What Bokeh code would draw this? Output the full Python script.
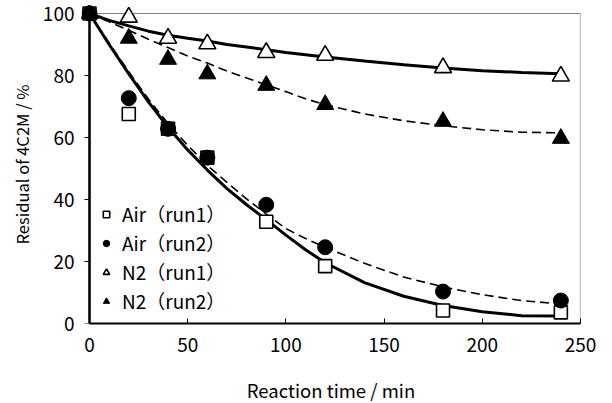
from bokeh.plotting import figure
from bokeh.models import Range1d, FixedTicker, Legend, LegendItem, BoxAnnotation, LinearAxis
from bokeh.embed import file_html
from bokeh.resources import INLINE

# measured data
time = [0, 20, 40, 60, 90, 120, 180, 240]
air_run1 = [100, 67.6, 62.8, 53.5, 32.8, 18.5, 4.2, 3.6]
air_run2 = [100, 72.7, 62.8, 53.5, 38.3, 24.6, 10.3, 7.4]
n2_run1 = [100, 98.8, 92.0, 90.2, 87.4, 86.5, 82.5, 79.8]
n2_run2 = [100, 92.0, 85.2, 80.5, 76.8, 70.6, 65.2, 59.7]

# fitted curves
fit_time = [0, 10, 20, 30, 40, 50, 60, 70, 80, 90, 100, 110, 120, 140, 160, 180, 200, 220, 240]
air_run1_fit = [100, 90, 80.5, 71.5, 63.3, 56, 49.5, 43.5, 38.3, 33.5, 28.5, 23.8, 19.6, 13.2, 8.8, 5.8, 3.8, 2.5, 2.4]
air_run2_fit = [100, 90.5, 81.2, 72.4, 64.5, 57.5, 51, 45.5, 40.2, 35.3, 30.6, 27.4, 24.6, 19.4, 15.0, 11.8, 9.3, 7.4, 6.3]
n2_run1_fit = [100, 97.8, 96.0, 94.3, 93.0, 92.0, 91.1, 90.0, 89.2, 88.3, 87.4, 86.7, 86.0, 84.7, 83.5, 82.4, 81.5, 81.0, 80.6]
n2_run2_fit = [100, 97.3, 94.6, 91.7, 89.0, 86.3, 84.0, 81.4, 79.2, 77.0, 74.8, 72.5, 70.6, 67.6, 65.4, 63.8, 62.5, 61.7, 61.5]

x_min, x_max = 0, 250
y_min, y_max = 0, 100
x_ticks = [0, 50, 100, 150, 200, 250]
y_ticks = [0, 20, 40, 60, 80, 100]

FONT = "Noto Sans CJK JP"

# frame slightly larger than the axes box (8px left/top) so edge markers are not clipped
x_pad = 8 * (x_max - x_min) / 491
y_pad = 8 * (y_max - y_min) / 310

p = figure(frame_width=499, frame_height=318, output_backend="svg", toolbar_location=None,
           x_range=Range1d(x_min - x_pad, x_max), y_range=Range1d(y_min, y_max + y_pad),
           min_border_left=81, min_border_right=32, min_border_top=5, min_border_bottom=80)
p.xgrid.visible = False
p.ygrid.visible = False
p.outline_line_color = None

p.add_layout(BoxAnnotation(left=x_min, right=x_max, bottom=y_min, top=y_max,
                           fill_color=None, fill_alpha=0, line_color="#808080",
                           line_alpha=1.0, line_width=1.2, level="underlay"))
# left axis line of the axes box
p.segment(x0=[x_min], y0=[y_min], x1=[x_min], y1=[y_max], line_color="black", line_width=2)

p.line(fit_time, n2_run1_fit, line_color="black", line_width=3)
p.line(fit_time, n2_run2_fit, line_color="black", line_width=1.6, line_dash="9 5")
p.line(fit_time, air_run1_fit, line_color="black", line_width=3)
p.line(fit_time, air_run2_fit, line_color="black", line_width=1.6, line_dash="9 5")

r1 = p.scatter(time, air_run1, marker="square", size=13, fill_color="white", line_color="black", line_width=1.6)
r2 = p.scatter(time, air_run2, marker="circle", size=15, fill_color="black", line_color="black")
r3 = p.scatter(time, n2_run1, marker="triangle", size=17, fill_color="white", line_color="black", line_width=1.6)
r4 = p.scatter(time, n2_run2, marker="triangle", size=17, fill_color="black", line_color="black")

legend = Legend(items=[
    LegendItem(label="Air（run1）", renderers=[r1]),
    LegendItem(label="Air（run2）", renderers=[r2]),
    LegendItem(label="N2（run1）", renderers=[r3]),
    LegendItem(label="N2（run2）", renderers=[r4]),
], location=(17, 9), background_fill_alpha=0, border_line_alpha=0,
    padding=0, margin=0, spacing=2, glyph_width=16, glyph_height=22, label_height=22,
    label_standoff=8, label_text_font=FONT, label_text_font_size="19px", label_text_color="black")
p.add_layout(legend, "center")

# x axis (normal position, bottom of frame = y_min)
xa = p.xaxis[0]
xa.axis_line_color = "black"
xa.axis_line_width = 2
xa.major_tick_line_color = "black"
xa.major_tick_line_width = 1
xa.minor_tick_line_color = None
xa.major_label_text_font = FONT
xa.major_label_text_font_size = "19px"
xa.major_label_text_color = "black"
xa.axis_label_text_font = FONT
xa.axis_label_text_font_style = "normal"
xa.axis_label_text_color = "black"
xa.axis_label_text_font_size = "18.5px"
xa.ticker = FixedTicker(ticks=x_ticks)
xa.bounds = (x_min, x_max)
xa.major_tick_in = 5
xa.major_tick_out = 0
xa.major_label_standoff = 14
xa.axis_label = "Reaction time / min"
xa.axis_label_standoff = 22

# y axis: labels only, at the frame's left edge (8px left of x = 0)
ya = p.yaxis[0]
ya.ticker = FixedTicker(ticks=y_ticks)
ya.axis_line_color = None
ya.major_tick_line_color = None
ya.minor_tick_line_color = None
ya.major_tick_in = 0
ya.major_tick_out = 0
ya.major_label_standoff = 7
ya.major_label_text_font = FONT
ya.major_label_text_font_size = "19px"
ya.major_label_text_color = "black"
ya.axis_label = "Residual of 4C2M / %"
ya.axis_label_text_font = FONT
ya.axis_label_text_font_style = "normal"
ya.axis_label_text_color = "black"
ya.axis_label_text_font_size = "16.5px"
ya.axis_label_standoff = 6

# y axis line and ticks at x = 0
yline = LinearAxis(ticker=FixedTicker(ticks=y_ticks), fixed_location=x_min, bounds=(y_min, y_max),
                   axis_line_color="black", axis_line_width=2,
                   major_tick_line_color="black", major_tick_line_width=1,
                   major_tick_in=0, major_tick_out=5, minor_tick_line_color=None,
                   major_label_text_alpha=0, major_label_text_font_size="1px")
p.add_layout(yline, "left")

open("out.html", "w").write(file_html(p, INLINE))
